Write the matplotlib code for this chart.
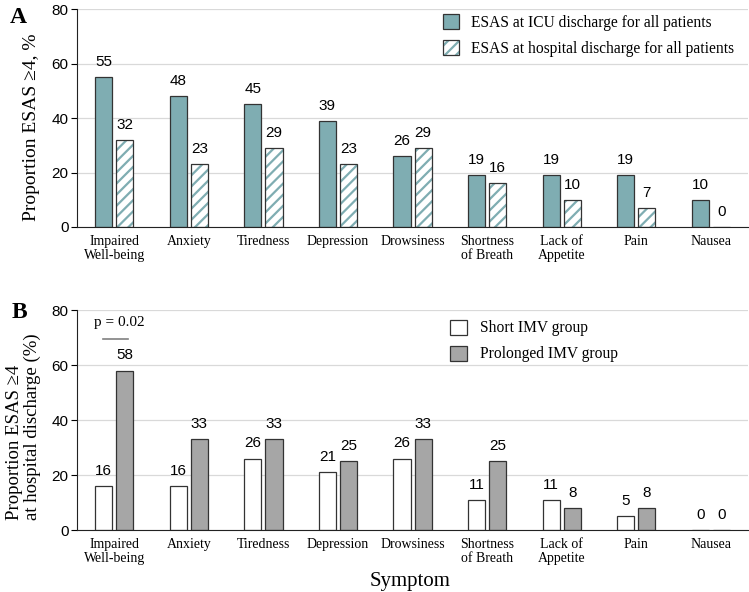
import matplotlib.pyplot as plt
import numpy as np

# data
symptoms = ["Impaired\nWell-being", "Anxiety", "Tiredness", "Depression", "Drowsiness",
            "Shortness\nof Breath", "Lack of\nAppetite", "Pain", "Nausea"]
icu_all = [55, 48, 45, 39, 26, 19, 19, 19, 10]
hosp_all = [32, 23, 29, 23, 29, 16, 10, 7, 0]
short_imv = [16, 16, 26, 21, 26, 11, 11, 5, 0]
prolonged_imv = [58, 33, 33, 25, 33, 25, 8, 8, 0]
yticks = [0, 20, 40, 60, 80]

serif = "Liberation Serif"
sans = "Liberation Sans"
teal = "#7fadb2"
gray = "#a6a6a6"
edge = "#333333"
plt.rcParams['hatch.linewidth'] = 1.6

fig = plt.figure(figsize=(7.49, 5.92), dpi=100)
axA = fig.add_axes([0.1028, 0.6166, 0.896, 0.368])
axB = fig.add_axes([0.1028, 0.1047, 0.896, 0.3716])

x = np.arange(len(symptoms))
w = 0.23
off = 0.142


def style(ax):
    ax.set_xlim(-0.5, len(symptoms) - 0.5)
    ax.set_ylim(0, 80)
    ax.set_yticks(yticks)
    ax.yaxis.grid(True, color="#d9d9d9", lw=0.9)
    ax.set_axisbelow(True)
    for s in ["top", "right"]:
        ax.spines[s].set_visible(False)
    ax.spines["left"].set_color("#222222")
    ax.spines["bottom"].set_color("#222222")
    ax.set_xticks(x)
    ax.set_xticklabels(symptoms, fontfamily=serif, fontsize=10, linespacing=1.05)
    ax.tick_params(axis="x", length=0, pad=6)
    ax.tick_params(axis="y", length=4, labelsize=11, pad=2)
    for lab in ax.get_yticklabels():
        lab.set_fontfamily(sans)


def values(ax, xs, vals):
    for xi, v in zip(xs, vals):
        ax.text(xi, v + 3, str(v), ha="center", va="bottom", fontfamily=sans, fontsize=11)


# panel A
b1 = axA.bar(x - off, icu_all, w, color=teal, edgecolor=edge, lw=0.9)
b2 = axA.bar(x + off, hosp_all, w, color="white", edgecolor=teal, hatch="///", lw=0)
b3 = axA.bar(x + off, hosp_all, w, fill=False, edgecolor=edge, lw=0.9)
values(axA, x - off, icu_all)
values(axA, x + off, hosp_all)
style(axA)
axA.set_ylabel("Proportion ESAS ≥4, %", fontfamily=serif, fontsize=14)
axA.yaxis.set_label_coords(-0.055, 0.46)
axA.legend([b1, (b2, b3)], ["ESAS at ICU discharge for all patients",
                            "ESAS at hospital discharge for all patients"],
           loc="upper right", bbox_to_anchor=(1.0, 1.04), frameon=False,
           prop={"family": serif, "size": 11.2}, handlelength=1.0, handleheight=1.1,
           labelspacing=0.6, handletextpad=0.8)
fig.text(0.013, 0.988, "A", fontfamily=serif, fontweight="bold", fontsize=17, va="top")

# panel B
axB.bar(x - off, short_imv, w, color="white", edgecolor=edge, lw=0.9, label="Short IMV group")
axB.bar(x + off, prolonged_imv, w, color=gray, edgecolor=edge, lw=0.9, label="Prolonged IMV group")
values(axB, x - off, short_imv)
values(axB, x + off, prolonged_imv)
style(axB)
axB.set_ylabel("Proportion ESAS ≥4\nat hospital discharge (%)", fontfamily=serif, fontsize=13.5,
               linespacing=1.0, multialignment="left")
axB.yaxis.set_label_coords(-0.054, 0.47)
axB.legend(loc="upper left", bbox_to_anchor=(0.535, 1.02), frameon=False,
           prop={"family": serif, "size": 11.2}, handlelength=1.1, handleheight=1.1,
           labelspacing=0.6, handletextpad=0.8)
axB.plot([-0.15, 0.19], [69.5, 69.5], color="#808080", lw=1.2)
axB.text(0.07, 73, "p = 0.02", ha="center", va="bottom", fontfamily=serif, fontsize=11)
fig.text(0.015, 0.49, "B", fontfamily=serif, fontweight="bold", fontsize=17, va="top")

fig.text(0.548, 0.002, "Symptom", ha="center", va="bottom", fontfamily=serif, fontsize=15)

fig.savefig("out.png", dpi=100)
